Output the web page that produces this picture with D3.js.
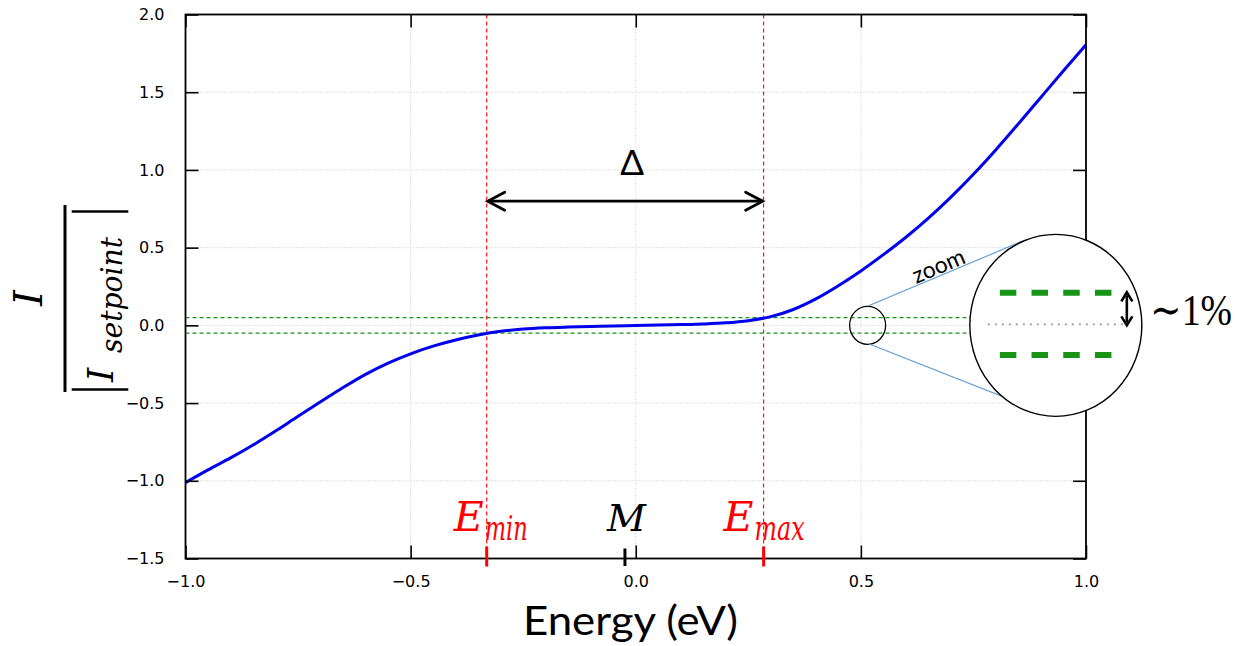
<!DOCTYPE html>
<html><head><meta charset="utf-8">
<script src="https://cdn.jsdelivr.net/npm/d3@7"></script>
<style>body{margin:0;background:#fff}svg{display:block}</style>
</head><body>
<svg id="c" width="1255" height="646"></svg>
<script>
// ---- data ----
const energy  = [-1.00,-0.95,-0.90,-0.85,-0.80,-0.75,-0.70,-0.65,-0.60,-0.55,-0.50,-0.45,-0.40,-0.35,-0.30,-0.25,-0.20,-0.15,-0.10,-0.05,0.00,0.05,0.10,0.15,0.20,0.25,0.30,0.35,0.40,0.45,0.50,0.55,0.60,0.65,0.70,0.75,0.80,0.85,0.90,0.95,1.00];
const current = [-1.012,-0.93,-0.853,-0.77,-0.68,-0.585,-0.492,-0.40,-0.315,-0.243,-0.183,-0.134,-0.094,-0.062,-0.038,-0.024,-0.016,-0.011,-0.007,-0.004,-0.001,0.002,0.005,0.009,0.016,0.030,0.056,0.102,0.170,0.255,0.350,0.455,0.567,0.690,0.825,0.972,1.130,1.297,1.468,1.638,1.805];
const xTicks = [-1.0,-0.5,0.0,0.5,1.0];
const yTicks = [-1.5,-1.0,-0.5,0.0,0.5,1.0,1.5,2.0];
const eMin = -0.331, eMax = 0.284, eM = -0.024;
const band = [0.05, -0.05];
const zoomCenter = [0.515, 0.0];
const bigCenter = [0.933, 0.0];

// ---- scales ----
const svg = d3.select("#c");
const L = 185.5, R = 1086, T = 14.5, B = 558.5;
const x = d3.scaleLinear().domain([-1, 1]).range([L, R]);
const y = d3.scaleLinear().domain([-1.5, 2.0]).range([B, T]);
const mathFont = "'DejaVu Serif', serif";
const sansFont = "Lato, 'Open Sans', 'DejaVu Sans', sans-serif";

// grid
const grid = svg.append("g").attr("stroke", "#c8c8c8").attr("stroke-width", 1).attr("stroke-dasharray", "1,2");
xTicks.slice(1, -1).forEach(t => grid.append("line").attr("x1", x(t)).attr("x2", x(t)).attr("y1", T).attr("y2", B));
yTicks.slice(1, -1).forEach(t => grid.append("line").attr("y1", y(t)).attr("y2", y(t)).attr("x1", L).attr("x2", R));

// green band lines
band.forEach(b => svg.append("line").attr("x1", L).attr("x2", R).attr("y1", y(b)).attr("y2", y(b))
  .attr("stroke", "#139613").attr("stroke-width", 1.3).attr("stroke-dasharray", "4,3"));

// red dashed verticals
[eMin, eMax].forEach(e => svg.append("line").attr("x1", x(e)).attr("x2", x(e)).attr("y1", T).attr("y2", B)
  .attr("stroke", "#ff0000").attr("stroke-width", 1.1).attr("stroke-dasharray", "4,3"));

// curve
const pts = energy.map((e, i) => [e, current[i]]);
svg.append("path").datum(pts)
  .attr("d", d3.line().x(d => x(d[0])).y(d => y(d[1])).curve(d3.curveMonotoneX))
  .attr("fill", "none").attr("stroke", "#0000ee").attr("stroke-width", 3);

// axes
const ax = svg.append("g");
ax.append("g").attr("transform", `translate(0,${B})`)
  .call(d3.axisBottom(x).tickValues(xTicks).tickSize(-13).tickPadding(17).tickFormat(d3.format(".1f")));
ax.append("g").attr("transform", `translate(${L},0)`)
  .call(d3.axisLeft(y).tickValues(yTicks).tickSize(-13).tickPadding(21).tickFormat(d3.format(".1f")));
ax.append("g").attr("transform", `translate(0,${T})`)
  .call(d3.axisTop(x).tickValues(xTicks).tickSize(-13).tickFormat(""));
ax.append("g").attr("transform", `translate(${R},0)`)
  .call(d3.axisRight(y).tickValues(yTicks).tickSize(-13).tickFormat(""));
ax.selectAll(".domain").remove();
ax.selectAll(".tick line").attr("stroke", "#000").attr("stroke-width", 1.6);
ax.selectAll(".tick text").style("font-family", "'DejaVu Sans'").style("font-size", "16px").attr("fill", "#000");
svg.append("rect").attr("x", L).attr("y", T).attr("width", R - L).attr("height", B - T)
  .attr("fill", "none").attr("stroke", "#000").attr("stroke-width", 1.8);

// red ticks and M tick
[eMin, eMax].forEach(e => svg.append("line").attr("x1", x(e)).attr("x2", x(e)).attr("y1", B - 12).attr("y2", B + 8)
  .attr("stroke", "#ff0000").attr("stroke-width", 3));
svg.append("line").attr("x1", x(eM)).attr("x2", x(eM)).attr("y1", B - 10).attr("y2", B + 7.5)
  .attr("stroke", "#000").attr("stroke-width", 3);

// E_min, M, E_max labels
function mathLabel(xs, base, main, sub, color, subLen) {
  svg.append("text").attr("x", xs).attr("y", base).attr("fill", color)
    .attr("font-family", mathFont).attr("font-style", "italic").attr("font-size", 41).text(main);
  svg.append("text").attr("x", xs + 31).attr("y", base + 9).attr("fill", color)
    .attr("font-family", mathFont).attr("font-style", "italic").attr("font-size", 33)
    .attr("textLength", subLen).attr("lengthAdjust", "spacingAndGlyphs").text(sub);
}
mathLabel(x(eMin) - 33, 531, "E", "min", "#ff0000", 43);
mathLabel(x(eMax) - 40, 531, "E", "max", "#ff0000", 50);
svg.append("text").attr("x", x(eM) - 18).attr("y", 531).attr("fill", "#000")
  .attr("font-family", mathFont).attr("font-style", "italic").attr("font-size", 38).text("M");

// Delta arrow
const ay = y(0.799);
const arr = svg.append("g").attr("stroke", "#000").attr("stroke-width", 2.8).attr("fill", "none").attr("stroke-linecap", "round");
arr.append("line").attr("x1", x(eMin) + 2).attr("x2", x(eMax) - 2).attr("y1", ay).attr("y2", ay);
arr.append("path").attr("d", `M${x(eMin) + 18},${ay - 9} L${x(eMin) + 1},${ay} L${x(eMin) + 18},${ay + 9}`);
arr.append("path").attr("d", `M${x(eMax) - 18},${ay - 9} L${x(eMax) - 1},${ay} L${x(eMax) - 18},${ay + 9}`);
svg.append("text").attr("x", (x(eMin) + x(eMax)) / 2 + 7).attr("y", 175).attr("text-anchor", "middle")
  .attr("font-family", sansFont).attr("font-size", 35).attr("fill", "#000").text("Δ");

// zoom circles
const zx = x(zoomCenter[0]), zy = y(zoomCenter[1]);
const bx = x(bigCenter[0]), by = y(bigCenter[1]);
svg.append("ellipse").attr("cx", zx).attr("cy", zy).attr("rx", 18).attr("ry", 19)
  .attr("fill", "none").attr("stroke", "#000").attr("stroke-width", 1.3);
svg.append("line").attr("x1", zx + 1).attr("y1", zy - 19.5).attr("x2", bx - 34).attr("y2", by - 84)
  .attr("stroke", "#5b9bd5").attr("stroke-width", 1.1);
svg.append("line").attr("x1", zx + 1).attr("y1", zy + 18.5).attr("x2", bx - 36).attr("y2", by + 78)
  .attr("stroke", "#5b9bd5").attr("stroke-width", 1.1);
const ang = Math.atan2(-84 + 19.5, (bx - 34) - (zx + 1)) * 180 / Math.PI;
svg.append("text").attr("transform", `translate(${zx + 74},${zy - 52}) rotate(${ang})`)
  .attr("text-anchor", "middle").attr("font-family", sansFont).attr("font-size", 23).attr("fill", "#000").text("zoom");
svg.append("ellipse").attr("cx", bx).attr("cy", by).attr("rx", 86).attr("ry", 91)
  .attr("fill", "#fff").attr("stroke", "#000").attr("stroke-width", 1.4);
// inside big circle
[-32.5, 29.7].forEach(dy => svg.append("line").attr("x1", bx - 56).attr("x2", bx + 58).attr("y1", by + dy).attr("y2", by + dy)
  .attr("stroke", "#169416").attr("stroke-width", 6).attr("stroke-dasharray", "16.5,15.2"));
svg.append("line").attr("x1", bx - 68).attr("x2", bx + 72).attr("y1", by - 1).attr("y2", by - 1)
  .attr("stroke", "#999").attr("stroke-width", 1.6).attr("stroke-dasharray", "2,5");
const vx = bx + 71;
svg.append("line").attr("x1", vx).attr("x2", vx).attr("y1", by - 30).attr("y2", by - 3)
  .attr("stroke", "#000").attr("stroke-width", 2.6);
svg.append("path").attr("d", `M${vx - 5.5},${by - 24} L${vx},${by - 33} L${vx + 5.5},${by - 24}`).attr("fill", "none").attr("stroke", "#000").attr("stroke-width", 2.6);
svg.append("path").attr("d", `M${vx - 5.5},${by - 9} L${vx},${by} L${vx + 5.5},${by - 9}`).attr("fill", "none").attr("stroke", "#000").attr("stroke-width", 2.6);
svg.append("text").attr("x", 1150).attr("y", 325).attr("font-family", "'Liberation Serif', 'DejaVu Serif', serif").attr("font-size", 44)
  .attr("textLength", 82).attr("lengthAdjust", "spacingAndGlyphs").attr("fill", "#000").text("∼1%");

// x axis label
svg.append("text").attr("x", 630.5).attr("y", 635).attr("text-anchor", "middle")
  .attr("font-family", sansFont).attr("font-size", 40).attr("fill", "#000")
  .attr("textLength", 215).attr("lengthAdjust", "spacingAndGlyphs").text("Energy (eV)");

// y axis label (fraction)
const yl = svg.append("g").attr("transform", "translate(65,298) rotate(-90)");
yl.append("line").attr("x1", -94).attr("x2", 93).attr("y1", 0).attr("y2", 0).attr("stroke", "#000").attr("stroke-width", 3);
yl.append("text").attr("x", 0).attr("y", -23).attr("text-anchor", "middle")
  .attr("font-family", mathFont).attr("font-style", "italic").attr("font-size", 40).attr("fill", "#000").text("I");
[-91.5, 86.5].forEach(u => yl.append("line").attr("x1", u).attr("x2", u).attr("y1", 6.7).attr("y2", 63.3)
  .attr("stroke", "#000").attr("stroke-width", 2.6));
yl.append("text").attr("x", -84).attr("y", 48)
  .attr("font-family", mathFont).attr("font-style", "italic").attr("font-size", 36).attr("fill", "#000").text("I");
yl.append("text").attr("x", -55).attr("y", 56.7)
  .attr("font-family", mathFont).attr("font-style", "italic").attr("font-size", 29).attr("fill", "#000")
  .attr("textLength", 116).attr("lengthAdjust", "spacingAndGlyphs").text("setpoint");
</script>
</body></html>
